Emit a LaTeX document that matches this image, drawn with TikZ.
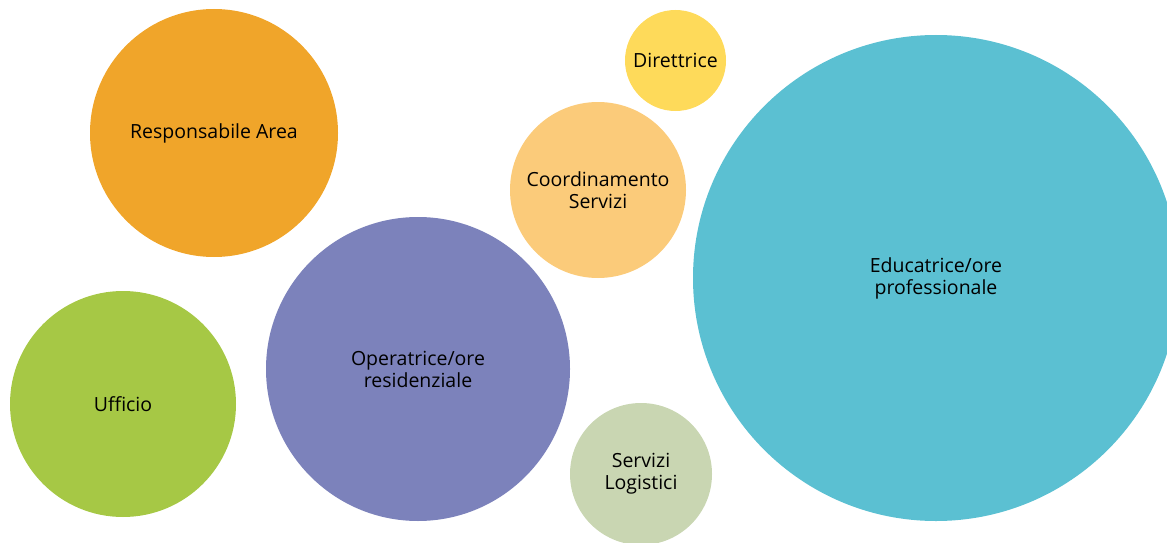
\documentclass[tikz,border=0pt]{standalone}
\usepackage{fontspec}
\setmainfont{Open Sans}
\definecolor{cOrange}{HTML}{F0A52A}
\definecolor{cGreen}{HTML}{A6C845}
\definecolor{cPurple}{HTML}{7C82BB}
\definecolor{cLOrange}{HTML}{FBCB7A}
\definecolor{cYellow}{HTML}{FEDA5A}
\definecolor{cPale}{HTML}{C9D6B2}
\definecolor{cTeal}{HTML}{5BC0D2}
\begin{document}
\begin{tikzpicture}[x=1pt,y=-1pt,
  bubble/.style={circle,inner sep=0pt,align=center,font=\fontsize{19.5}{22}\selectfont,text=black}]
\useasboundingbox (0,0) rectangle (1167,543);
\clip (0,0) rectangle (1167,543);
\node[bubble,fill=cOrange,minimum size=248pt] (resp) at (214,133) {Responsabile Area};
\node[bubble,fill=cGreen,minimum size=226pt] (uff) at (123,404) {Ufficio};
\node[bubble,fill=cPurple,minimum size=304pt] (oper) at (418,369) {Operatrice/ore\\residenziale};
\node[bubble,fill=cLOrange,minimum size=176pt] (coord) at (598,190) {Coordinamento\\Servizi};
\node[bubble,fill=cYellow,minimum size=101pt] (dir) at (675.5,60.5) {Direttrice};
\node[bubble,fill=cPale,minimum size=142pt] (serv) at (641,474) {Servizi\\Logistici};
\node[bubble,fill=cTeal,minimum size=486pt] (edu) at (936,278) {Educatrice/ore\\professionale};
\end{tikzpicture}
\end{document}
